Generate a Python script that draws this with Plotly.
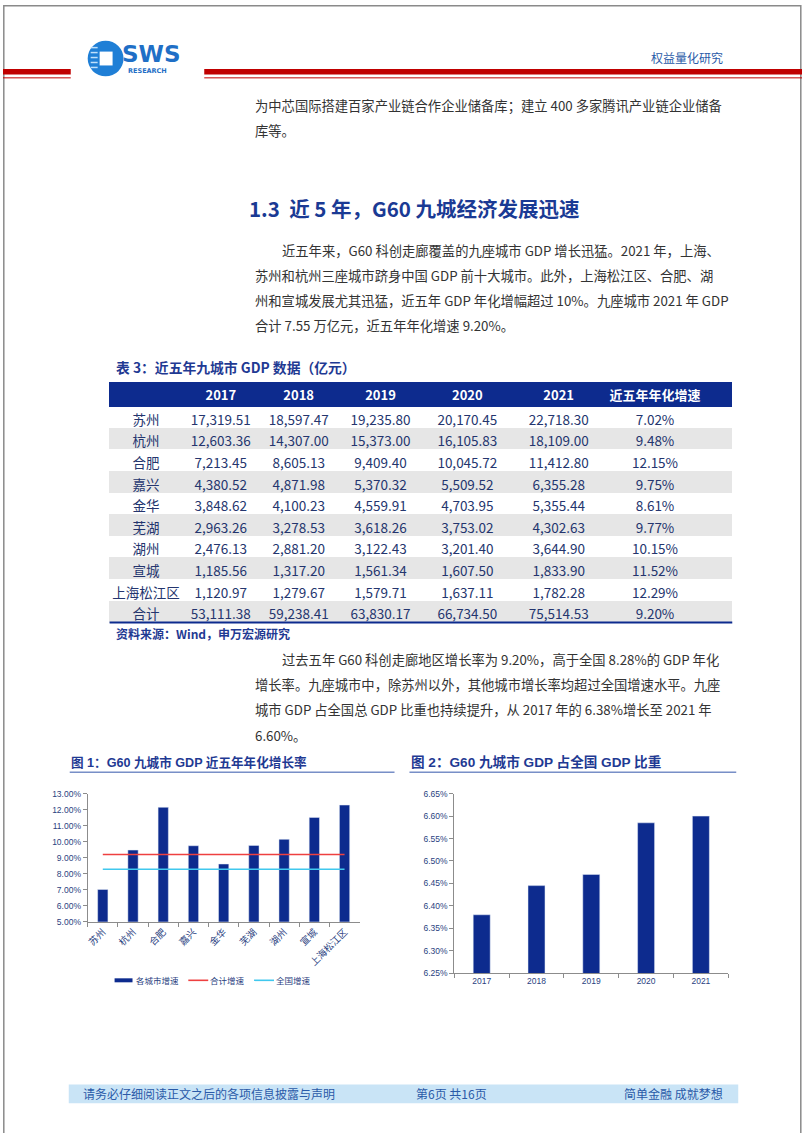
import plotly.graph_objects as go

W, H = 802, 1133
def X(px): return px / W
def Y(py): return 1 - py / H

# ---------------- data ----------------
years = ["2017", "2018", "2019", "2020", "2021"]
cities = ["苏州", "杭州", "合肥", "嘉兴", "金华", "芜湖", "湖州", "宣城", "上海松江区", "合计"]
gdp_2017 = [17319.51, 12603.36, 7213.45, 4380.52, 3848.62, 2963.26, 2476.13, 1185.56, 1120.97, 53111.38]
gdp_2018 = [18597.47, 14307.00, 8605.13, 4871.98, 4100.23, 3278.53, 2881.20, 1317.20, 1279.67, 59238.41]
gdp_2019 = [19235.80, 15373.00, 9409.40, 5370.32, 4559.91, 3618.26, 3122.43, 1561.34, 1579.71, 63830.17]
gdp_2020 = [20170.45, 16105.83, 10045.72, 5509.52, 4703.95, 3753.02, 3201.40, 1607.50, 1637.11, 66734.50]
gdp_2021 = [22718.30, 18109.00, 11412.80, 6355.28, 5355.44, 4302.63, 3644.90, 1833.90, 1782.28, 75514.53]
cagr = [7.02, 9.48, 12.15, 9.75, 8.61, 9.77, 10.15, 11.52, 12.29, 9.20]
national_cagr = 8.28
share = [6.38, 6.445, 6.47, 6.585, 6.60]

header_labels = ["", "2017", "2018", "2019", "2020", "2021", "近五年年化增速", ""]
legend_names = ["各城市增速", "合计增速", "全国增速"]

CJK = "Noto Sans CJK SC"
ARIAL = "Liberation Sans"
NAVY = "#0d2b8e"
TITLE_BLUE = "#1f3a93"
TEXT = "#333333"
CELL_TXT = "#24356e"
GRAY = "#e6e6e6"
RED = "#c00000"
RED_LINE = "#ee4040"
CYAN_LINE = "#40c8ee"

fig = go.Figure()

# ---------------- chart 1 ----------------
city9 = cities[:9]
fig.add_trace(go.Bar(x=city9, y=cagr[:9], marker_color=NAVY, width=0.34,
                     showlegend=False, xaxis="x", yaxis="y"))
fig.add_trace(go.Scatter(x=city9, y=[cagr[9]] * 9, mode="lines", name=legend_names[1],
                         line=dict(color=RED_LINE, width=1.6), showlegend=False, xaxis="x", yaxis="y"))
fig.add_trace(go.Scatter(x=city9, y=[national_cagr] * 9, mode="lines", name=legend_names[2],
                         line=dict(color=CYAN_LINE, width=1.6), showlegend=False, xaxis="x", yaxis="y"))

# ---------------- chart 2 ----------------
fig.add_trace(go.Bar(x=years, y=share, marker_color=NAVY, width=0.31,
                     showlegend=False, xaxis="x2", yaxis="y2"))

# ---------------- table ----------------
def fmt(vals):
    return [f"{v:,.2f}" for v in vals]

n = len(cities)
row_fill = ["white" if i % 2 == 0 else GRAY for i in range(n)]
cols = [cities, fmt(gdp_2017), fmt(gdp_2018), fmt(gdp_2019), fmt(gdp_2020), fmt(gdp_2021),
        [f"{v:.2f}%" for v in cagr], [""] * n]
fig.add_trace(go.Table(
    domain=dict(x=[X(107), X(732)], y=[Y(645), Y(381)]),
    columnwidth=[73, 77.5, 79, 85.5, 89, 94.5, 99, 27.5],
    header=dict(values=header_labels,
                fill_color=NAVY, line_color=NAVY, align="center", height=24,
                font=dict(family=CJK, size=13, color="white", weight="bold")),
    cells=dict(values=cols, fill_color=[row_fill] * 8, line_color=[row_fill] * 8,
               align="center", height=21.6,
               font=dict(family=CJK, size=13.5, color=CELL_TXT)),
))

shapes = []
def rect(x0, x1, y0, y1, fill, **kw):
    shapes.append(dict(type="rect", xref="paper", yref="paper", x0=X(x0), x1=X(x1), y0=Y(y1), y1=Y(y0),
                       line=dict(width=0), fillcolor=fill, **kw))
def hline(x0, x1, y, color, width):
    shapes.append(dict(type="line", xref="paper", yref="paper", x0=X(x0), x1=X(x1), y0=Y(y), y1=Y(y),
                       line=dict(color=color, width=width)))

# page border
shapes.append(dict(type="rect", xref="paper", yref="paper", x0=X(0.8), x1=X(800.8), y0=Y(1140), y1=Y(0.8),
                   line=dict(color="#8a8a8a", width=1.5), fillcolor="rgba(0,0,0,0)"))
# header red lines
for (a, b) in [(0, 68), (202, 802)]:
    rect(a, b, 64.5, 70, RED)
    hline(a, b, 73.5, RED, 1)
# logo icon
shapes.append(dict(type="circle", xref="paper", yref="paper", x0=X(85), x1=X(121), y0=Y(72), y1=Y(36),
                   line=dict(width=0), fillcolor="#1f7fd6"))
rect(97, 110, 47, 61, "white")
for yy in [43, 48, 53, 58, 63]:
    hline(88, 95, yy, "#bfe0fb", 1.5)
# table bottom line
hline(107, 732, 623, NAVY, 2)
# figure title underlines
hline(67, 393, 774, "#3355aa", 1)
hline(408, 736, 774, "#3355aa", 1)
# footer band
rect(66, 738, 1089, 1108, "#c9e4f6")

# chart-1 legend (drawn manually to match compact layout)
leg_y = 984
hline(112, 130, leg_y, NAVY, 4)
hline(186, 206, leg_y, RED_LINE, 1.6)
hline(252, 272, leg_y, CYAN_LINE, 1.6)

ann = []
def txt(x, y, s, size=13.3, color=TEXT, family=CJK, xanchor="left", bold=False):
    ann.append(dict(x=X(x), y=Y(y), xref="paper", yref="paper", text=(f"<b>{s}</b>" if bold else s),
                    showarrow=False, xanchor=xanchor, yanchor="middle",
                    font=dict(size=size, color=color, family=family)))

LEGC = "#2b3f7f"
txt(131, leg_y, legend_names[0], size=8.5, color=LEGC)
txt(206, leg_y, legend_names[1], size=8.5, color=LEGC)
txt(272, leg_y, legend_names[2], size=8.5, color=LEGC)

# header texts
txt(117, 49, "SWS", size=23, color="#1f6fc6", family="DejaVu Sans", bold=True)
txt(123, 67, "RESEARCH", size=6.5, color="#1f6fc6", family="DejaVu Sans", bold=True)
txt(725, 53, "权益量化研究", size=12, color="#2a5aa8", xanchor="right")

# body text
txt(251, 101, "为中芯国际搭建百家产业链合作企业储备库；建立 400 多家腾讯产业链企业储备")
txt(251, 127, "库等。")
txt(245, 205, "1.3\u00a0\u00a0近 5 年，G60 九城经济发展迅速", size=20.5, color="#1a3a94", bold=True)
txt(278, 248, "近五年来，G60 科创走廊覆盖的九座城市 GDP 增长迅猛。2021 年，上海、")
txt(251, 273, "苏州和杭州三座城市跻身中国 GDP 前十大城市。此外，上海松江区、合肥、湖")
txt(251, 298, "州和宣城发展尤其迅猛，近五年 GDP 年化增幅超过 10%。九座城市 2021 年 GDP")
txt(251, 323, "合计 7.55 万亿元，近五年年化增速 9.20%。")

txt(111, 365, "表 3：近五年九城市 GDP 数据（亿元）", size=13.8, color=TITLE_BLUE, bold=True)
txt(111, 634, "资料来源：Wind，申万宏源研究", size=12, color=TITLE_BLUE, bold=True)

txt(278, 660, "过去五年 G60 科创走廊地区增长率为 9.20%，高于全国 8.28%的 GDP 年化")
txt(251, 686, "增长率。九座城市中，除苏州以外，其他城市增长率均超过全国增速水平。九座")
txt(251, 711, "城市 GDP 占全国总 GDP 比重也持续提升，从 2017 年的 6.38%增长至 2021 年")
txt(251, 737, "6.60%。")

TFAM = "Liberation Sans, Noto Sans CJK SC"
txt(66, 764, "图 1：G60 九城市 GDP 近五年年化增长率", size=12.6, color=TITLE_BLUE, family=TFAM, bold=True)
txt(408, 764, "图 2：G60 九城市 GDP 占全国 GDP 比重", size=13.6, color=TITLE_BLUE, family=TFAM, bold=True)

# footer
txt(78, 1098, "请务必仔细阅读正文之后的各项信息披露与声明", size=12, color="#2a5aa8")
txt(450, 1098, "第6页 共16页", size=12, color="#2a5aa8", xanchor="center")
txt(725, 1098, "简单金融 成就梦想", size=12, color="#2a5aa8", xanchor="right")

AX = "#8c8c8c"
TICKC = "#2b3f7f"
fig.update_layout(
    width=W, height=H, margin=dict(l=0, r=0, t=0, b=0),
    paper_bgcolor="white", plot_bgcolor="white",
    shapes=shapes, annotations=ann,
    showlegend=False,
    xaxis=dict(domain=[X(85), X(358)], anchor="y", showline=True, linecolor=AX, linewidth=1,
               ticks="outside", tickson="boundaries", ticklen=4, tickcolor=AX, tickangle=-45,
               tickfont=dict(size=9.5, color=TICKC, family=CJK), showgrid=False),
    yaxis=dict(domain=[Y(925), Y(795.7)], anchor="x", range=[5, 13], dtick=1, tickformat=".2f",
               ticksuffix="%", showline=True, linecolor=AX, linewidth=1, ticks="outside",
               ticklen=4, tickcolor=AX, tickfont=dict(size=8.5, color=TICKC, family=ARIAL),
               showgrid=False, zeroline=False),
    xaxis2=dict(domain=[X(453), X(728)], anchor="y2", showline=True, linecolor=AX, linewidth=1,
                ticks="outside", tickson="boundaries", ticklen=4, tickcolor=AX,
                tickfont=dict(size=8.5, color=TICKC, family=ARIAL), showgrid=False),
    yaxis2=dict(domain=[Y(976.7), Y(795.7)], anchor="x2", range=[6.25, 6.65], dtick=0.05,
                tickformat=".2f", ticksuffix="%", showline=True, linecolor=AX, linewidth=1,
                ticks="outside", ticklen=4, tickcolor=AX,
                tickfont=dict(size=8.5, color=TICKC, family=ARIAL), showgrid=False, zeroline=False),
)

fig.write_html("out.html", config={"displayModeBar": False},
               post_script="document.body.style.margin='0px';")
